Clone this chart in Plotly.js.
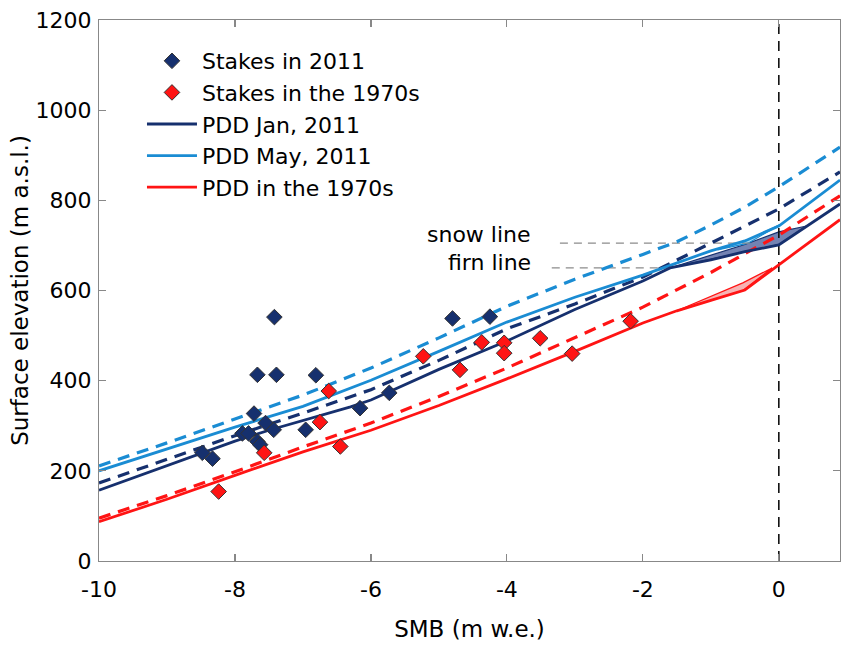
<!DOCTYPE html>
<html>
<head>
<meta charset="utf-8">
<script src="https://cdn.plot.ly/plotly-3.0.1.min.js"></script>
<style>html,body{margin:0;padding:0;background:#fff;}#chart{width:841px;height:646px;}</style>
</head>
<body>
<div id="chart"></div>
<script>
// ---- Data ----
// Stakes (markers)
const stakes2011X = [-8.48, -8.33, -7.89, -7.80, -7.72, -7.67, -7.67, -7.63, -7.55, -7.43, -7.42, -7.39, -6.96, -6.81, -6.16, -5.73, -4.80, -4.25];
const stakes2011Y = [240, 227, 283, 283, 327, 265, 413, 258, 306, 291, 541, 413, 291, 412, 339, 373, 538, 542];
const stakes1970X = [-8.24, -7.57, -6.75, -6.62, -6.45, -5.23, -4.69, -4.37, -4.04, -4.04, -3.51, -3.04, -2.18];
const stakes1970Y = [154, 240, 308, 377, 254, 454, 424, 485, 484, 461, 494, 460, 532];

// PDD Jan 2011 (solid and dashed)
const janSolidX = [-10, -9, -8, -7.5, -7, -6.3, -6, -5, -4, -3, -2, -1.6, -1, -0.5, 0, 0.4, 0.9];
const janSolidY = [157, 212, 266, 290, 312, 342, 357, 425, 488, 558, 621, 650, 668, 686, 701, 741, 792];
const janDashX = [-10, -9, -8, -7, -6, -5, -4, -3, -2, -1, 0, 0.9];
const janDashY = [173, 225, 278, 328, 380, 445, 515, 570, 630, 705, 781, 863];

// PDD May 2011
const maySolidX = [-10, -9, -8, -7, -6, -5, -4, -3, -2, -1, -0.5, 0, 0.9];
const maySolidY = [200, 248, 297, 343, 401, 465, 530, 585, 634, 688, 710, 743, 845];
const mayDashX = [-10, -9, -8, -7, -6, -5, -4, -3, -2, -1.5, -1, -0.5, 0, 0.9];
const mayDashY = [211, 262, 315, 368, 428, 495, 565, 625, 680, 708, 745, 785, 830, 918];

// PDD 1970s
const s70SolidX = [-10, -9, -8, -7, -6, -5, -4, -3, -2, -1.5, -1, -0.5, 0, 0.9];
const s70SolidY = [87, 137, 190, 242, 290, 345, 404, 465, 528, 555, 578, 601, 657, 757];
const s70DashX = [-10, -9, -8, -7, -6, -5, -4, -3, -2, -1, 0, 0.9];
const s70DashY = [95, 145, 198, 253, 306, 365, 428, 495, 563, 640, 723, 810];

// Uncertainty patches near 0
const patchJanX = [-1.6, -0.5, 0, 0.41, 0, -0.57, -1.6];
const patchJanY = [650, 702, 730, 743, 702, 684, 650];
const patchMayX = [-0.9, -0.4, 0, -0.2, -0.45, -0.9];
const patchMayY = [690, 716, 745, 728, 705, 690];
const patch70X = [-1.5, -0.53, -0.1, -0.53, -1.5];
const patch70Y = [555, 617, 650, 600, 555];

// Reference lines
const snowLineX = [-3.22, -0.4];
const snowLineY = [705, 705];
const firnLineX = [-3.34, -1.56];
const firnLineY = [650, 650];
const zeroLineX = [0, 0];
const zeroLineY = [0, 1200];

const xTicks = [-10, -8, -6, -4, -2, 0];
const yTicks = [0, 200, 400, 600, 800, 1000, 1200];

// ---- Styles ----
const NAVY = '#16306e';
const LBLUE = '#1a8cd3';
const RED = '#ff1414';
const FONT = 'DejaVu Sans, Liberation Sans, Arial, sans-serif';

const traces = [
  {x: patchJanX, y: patchJanY, mode: 'lines', fill: 'toself', fillcolor: 'rgba(80,100,160,0.8)', line: {color: NAVY, width: 1.2}, showlegend: false, hoverinfo: 'skip'},
  {x: patchMayX, y: patchMayY, mode: 'lines', fill: 'toself', fillcolor: 'rgba(130,200,240,0.7)', line: {color: LBLUE, width: 1.2}, showlegend: false, hoverinfo: 'skip'},
  {x: patch70X, y: patch70Y, mode: 'lines', fill: 'toself', fillcolor: 'rgba(245,160,160,0.8)', line: {color: RED, width: 1.2}, showlegend: false, hoverinfo: 'skip'},
  {x: snowLineX, y: snowLineY, mode: 'lines', line: {color: '#8c8c8c', width: 1.2, dash: '8px,6px'}, showlegend: false, hoverinfo: 'skip'},
  {x: firnLineX, y: firnLineY, mode: 'lines', line: {color: '#8c8c8c', width: 1.2, dash: '8px,6px'}, showlegend: false, hoverinfo: 'skip'},
  {x: zeroLineX, y: zeroLineY, mode: 'lines', line: {color: '#111', width: 1.6, dash: '10px,7px'}, showlegend: false, hoverinfo: 'skip'},
  {x: mayDashX, y: mayDashY, mode: 'lines', line: {color: LBLUE, width: 3.2, dash: '12px,8px'}, showlegend: false},
  {x: janDashX, y: janDashY, mode: 'lines', line: {color: NAVY, width: 3.2, dash: '12px,8px'}, showlegend: false},
  {x: s70DashX, y: s70DashY, mode: 'lines', line: {color: RED, width: 3.2, dash: '12px,8px'}, showlegend: false},
  {x: maySolidX, y: maySolidY, mode: 'lines', name: 'PDD May, 2011', line: {color: LBLUE, width: 2.8}, legendrank: 4},
  {x: janSolidX, y: janSolidY, mode: 'lines', name: 'PDD Jan, 2011', line: {color: NAVY, width: 2.8}, legendrank: 3},
  {x: s70SolidX, y: s70SolidY, mode: 'lines', name: 'PDD in the 1970s', line: {color: RED, width: 2.8}, legendrank: 5},
  {x: stakes2011X, y: stakes2011Y, mode: 'markers', name: 'Stakes in 2011', marker: {symbol: 'diamond', size: 12, color: NAVY, line: {color: '#333', width: 1}}, legendrank: 1},
  {x: stakes1970X, y: stakes1970Y, mode: 'markers', name: 'Stakes in the 1970s', marker: {symbol: 'diamond', size: 12, color: RED, line: {color: '#333', width: 1}}, legendrank: 2}
];

const axisCommon = {
  showgrid: false, zeroline: false, showline: true, linecolor: '#888', linewidth: 1.2,
  mirror: 'ticks', ticks: 'inside', ticklen: 7, tickcolor: '#888', tickwidth: 1.2,
  tickfont: {family: FONT, size: 22, color: '#000'}
};

const layout = {
  width: 841, height: 646,
  margin: {l: 99, r: 1, t: 20, b: 85},
  paper_bgcolor: '#fff', plot_bgcolor: '#fff',
  font: {family: FONT, color: '#000'},
  showlegend: true,
  legend: {x: 0.058, y: 0.963, xanchor: 'left', yanchor: 'top', bgcolor: 'rgba(0,0,0,0)', borderwidth: 0,
           font: {family: FONT, size: 22, color: '#000'}, itemwidth: 50, tracegroupgap: 0},
  xaxis: Object.assign({}, axisCommon, {
    range: [-10, 0.9], tickvals: xTicks, ticktext: xTicks.map(String), ticklabelstandoff: 8,
    title: {text: 'SMB (m w.e.)', font: {family: FONT, size: 23, color: '#000'}, standoff: 20}
  }),
  yaxis: Object.assign({}, axisCommon, {
    range: [0, 1200], tickvals: yTicks, ticktext: yTicks.map(String), ticklabelstandoff: 2,
    title: {text: 'Surface elevation (m a.s.l.)', font: {family: FONT, size: 23, color: '#000'}, standoff: 0}
  }),
  annotations: [
    {x: -3.62, y: 725, xref: 'x', yref: 'y', text: 'snow line', showarrow: false, xanchor: 'right', yanchor: 'middle', font: {family: FONT, size: 22, color: '#000'}},
    {x: -3.62, y: 663, xref: 'x', yref: 'y', text: 'firn line', showarrow: false, xanchor: 'right', yanchor: 'middle', font: {family: FONT, size: 22, color: '#000'}}
  ]
};

Plotly.newPlot('chart', traces, layout, {displayModeBar: false, staticPlot: true});
</script>
</body>
</html>
